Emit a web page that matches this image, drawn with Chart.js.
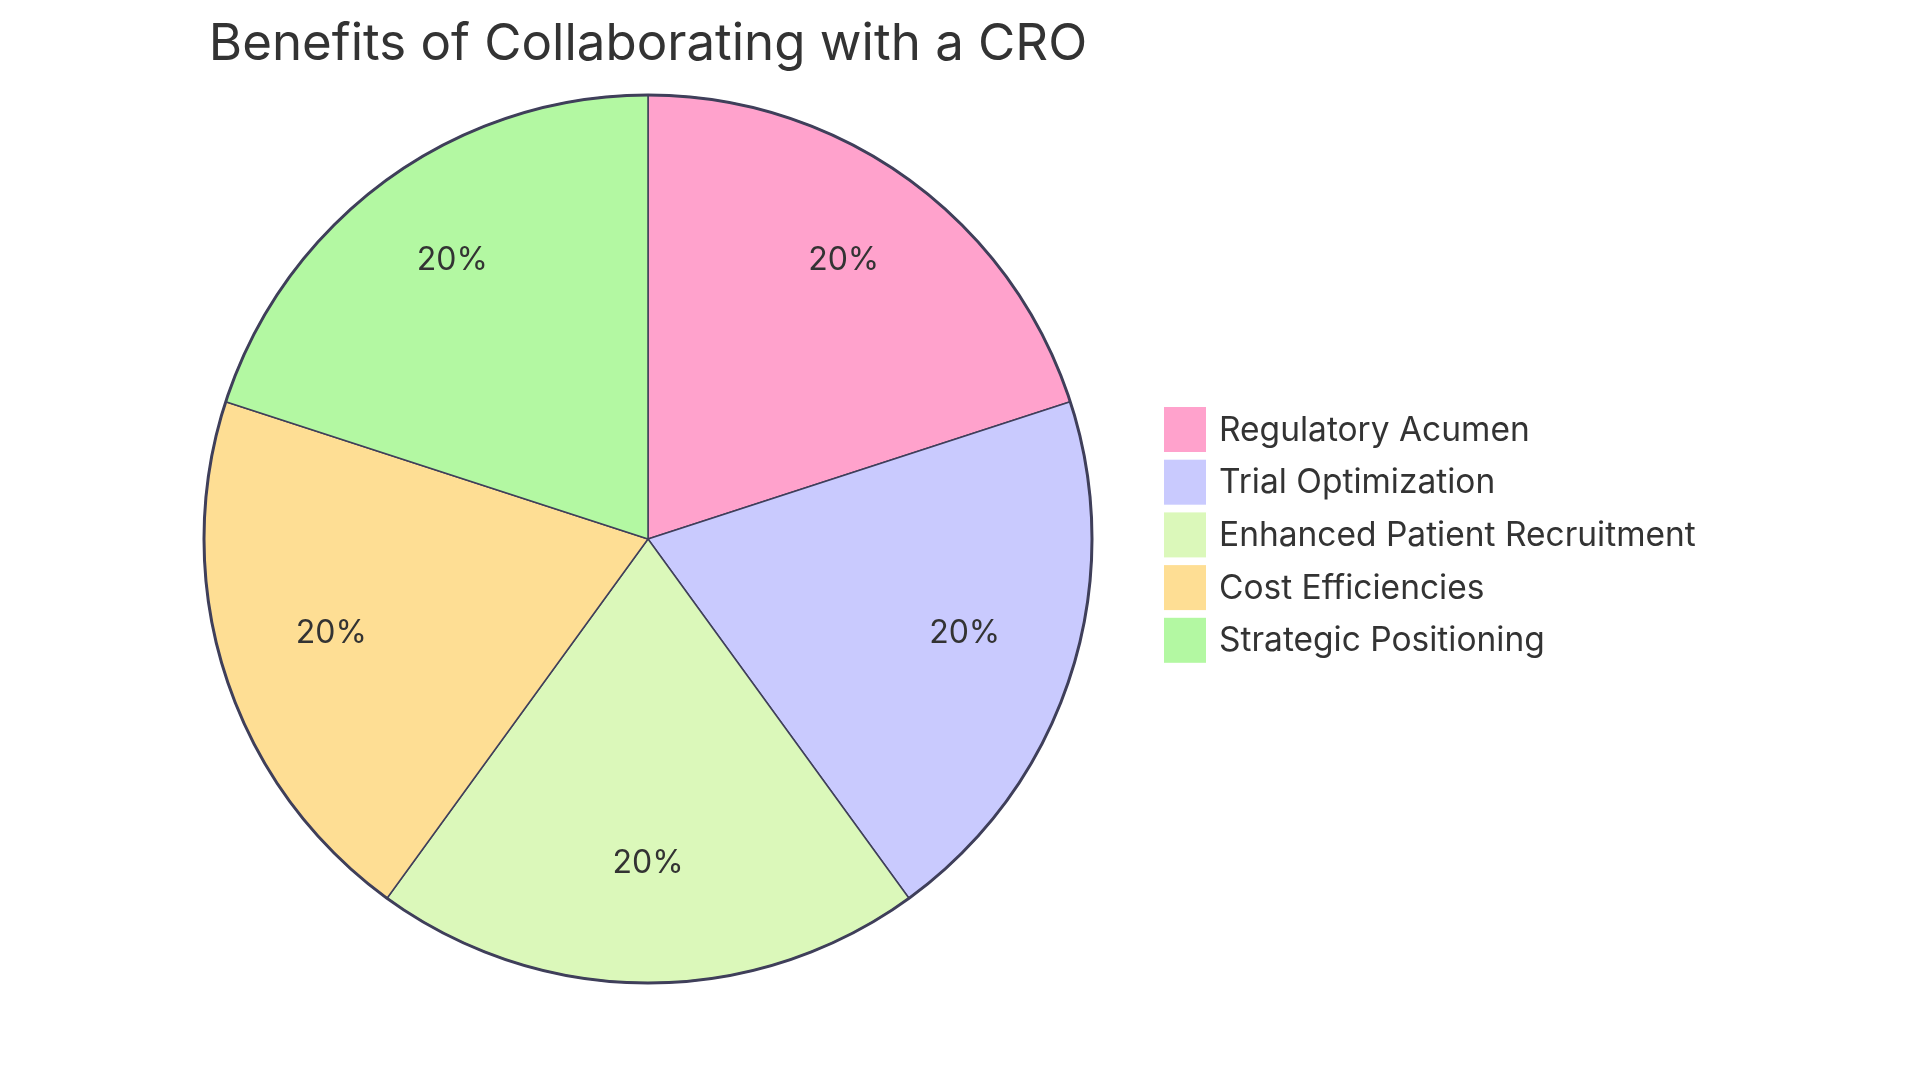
<!DOCTYPE html>
<html lang="en">
  <head>
    <meta charset="UTF-8">
    <title>Benefits of Collaborating with a CRO</title>
    <script src="https://cdn.jsdelivr.net/npm/chart.js"></script>
    <style>
      body {
        margin: 0;
        padding: 0;
        background-color: #ffffff;
      }
      canvas {
        display: block;
      }
    </style>
  </head>
  <body>
  <canvas id="croChart" width="1920" height="1080"></canvas>

  <script>
  // data
  var categories = ['Regulatory Acumen', 'Trial Optimization', 'Enhanced Patient Recruitment', 'Cost Efficiencies', 'Strategic Positioning'];
  var shares = [20, 20, 20, 20, 20];
  var sliceColors = ['#FFA2CC', '#C9CAFE', '#DBF8BA', '#FEDE94', '#B3F8A2'];

  var strokeColor = '#3f3f5a';
  var textColor = '#333333';
  var fontName = 'Inter, "Open Sans", sans-serif';

  // percent labels inside slices, outer ring and the legend on the right
  var pieExtras = {
    id: 'pieExtras',
    afterDatasetsDraw: function(chart) {
      var ctx = chart.ctx;
      var meta = chart.getDatasetMeta(0);
      var total = shares.reduce(function(a, b) { return a + b; }, 0);

      ctx.save();
      // thicker outer circle
      var first = meta.data[0];
      ctx.beginPath();
      ctx.arc(first.x, first.y, first.outerRadius, 0, Math.PI * 2);
      ctx.lineWidth = 3;
      ctx.strokeStyle = strokeColor;
      ctx.stroke();

      ctx.font = '32px ' + fontName;
      ctx.fillStyle = textColor;
      ctx.textAlign = 'center';
      ctx.textBaseline = 'middle';
      meta.data.forEach(function(arc, i) {
        var mid = (arc.startAngle + arc.endAngle) / 2;
        var r = arc.outerRadius * 0.75;
        var pct = Math.round(shares[i] / total * 100) + '%';
        ctx.fillText(pct, arc.x + Math.cos(mid) * r, arc.y + Math.sin(mid) * r - 9);
      });

      // legend
      var boxX = 1164, boxW = 42, boxH = 45, top = 407, step = 52.7;
      ctx.font = '33.5px ' + fontName;
      ctx.textAlign = 'left';
      categories.forEach(function(name, i) {
        var y = top + i * step;
        ctx.fillStyle = sliceColors[i];
        ctx.fillRect(boxX, y, boxW, boxH);
        ctx.fillStyle = textColor;
        ctx.fillText(name, boxX + boxW + 13, y + boxH / 2 + 1);
      });
      ctx.restore();
    }
  };

  var ctx = document.getElementById('croChart').getContext('2d');
  var croChart = new Chart(ctx, {
    type: 'pie',
    data: {
      labels: categories,
      datasets: [{
        data: shares,
        backgroundColor: sliceColors,
        borderColor: strokeColor,
        borderWidth: 1.5
      }]
    },
    options: {
      responsive: false,
      animation: false,
      radius: 444,
      layout: {
        padding: { left: 0, right: 624, top: 0, bottom: 77.2 }
      },
      plugins: {
        legend: { display: false },
        tooltip: { enabled: false },
        title: {
          display: true,
          fullSize: false,
          text: 'Benefits of Collaborating with a CRO',
          color: textColor,
          font: { family: fontName, size: 51, weight: 'normal', lineHeight: 1.2 },
          padding: { top: 14, bottom: 0 }
        }
      }
    },
    plugins: [pieExtras]
  });
  </script>
  </body>
</html>
